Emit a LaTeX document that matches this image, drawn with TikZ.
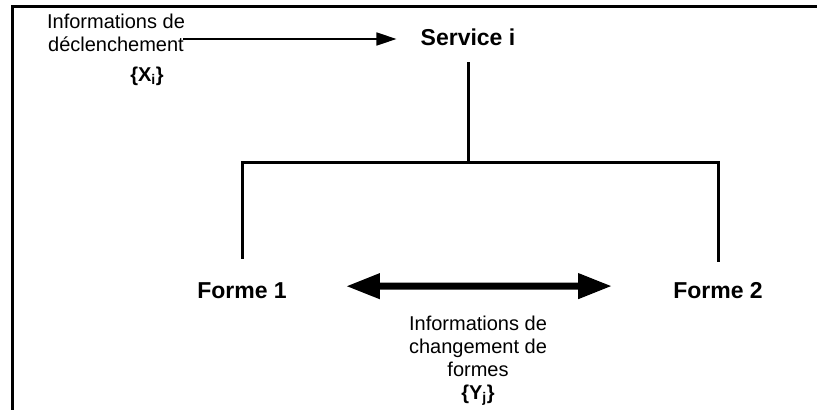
\documentclass[tikz,border=0pt]{standalone}
\usepackage{fontspec}
\setmainfont{Liberation Sans}
\usetikzlibrary{arrows.meta}
\begin{document}
\begin{tikzpicture}[x=1pt,y=-1pt,
  reg/.style={font=\fontsize{20}{23}\selectfont, align=center, inner sep=0pt},
  bld/.style={font=\fontsize{23}{27}\selectfont\bfseries, inner ysep=0pt},
  frameline/.style={line width=3pt},
  conn/.style={line width=3pt, line join=miter},
  thinarrow/.style={line width=1.5pt, -{Triangle[length=20pt,width=13pt]}},
  bigarrow/.style={line width=7pt, {Triangle[length=34pt,width=24pt]}-{Triangle[length=34pt,width=24pt]}}]
\useasboundingbox (0,0) rectangle (817,410);
% frame
\draw[frameline] (817,6) -- (12,6) -- (12,410);
% nodes
\node[bld, anchor=base, inner xsep=24pt] (service) at (468,45) {Service i};
\node[bld, anchor=base, inner xsep=59pt] (f1) at (242,298) {Forme 1};
\node[bld, anchor=base, inner xsep=61pt] (f2) at (718,298) {Forme 2};
\node[reg, anchor=base] (trig) at (116,51) {Informations de\\déclenchement};
\node[bld, font=\fontsize{20}{23}\selectfont\bfseries, anchor=base, inner sep=0pt] (xi) at (147,81) {\{X\textsubscript{i}\}};
\node[reg, anchor=base] (info) at (478,399) {Informations de\\changement de\\formes\\\textbf{\{Y\textsubscript{j}\}}};
% connectors
\coordinate (hub) at (468,162);
\coordinate (a0) at (183,39);
\draw[conn] ([yshift=-17pt]service.base) -- (hub);
\draw[conn] ([yshift=23pt]f1.north) |- (hub) -| ([yshift=20pt]f2.north);
\draw[thinarrow] (a0) -- (a0 -| service.west);
\draw[bigarrow] ([yshift=4pt]f1.east) -- ([yshift=4pt]f2.west);
\end{tikzpicture}
\end{document}
